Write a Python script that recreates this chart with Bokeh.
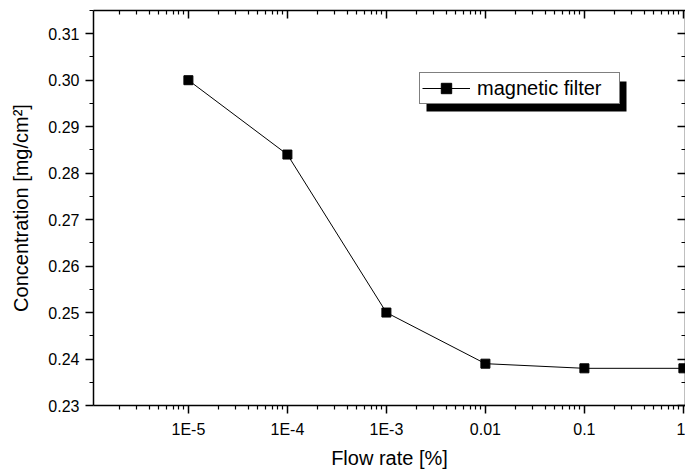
from bokeh.plotting import figure
from bokeh.models import (LogAxis, LinearAxis, FixedTicker, Range1d, Legend, LegendItem,
                          BoxAnnotation, ColumnDataSource, CustomJSTickFormatter, NumeralTickFormatter)
from bokeh.embed import file_html
from bokeh.resources import INLINE

# ---- data ----
flow_rate = [1e-5, 1e-4, 1e-3, 1e-2, 1e-1, 1.0]
concentration = [0.300, 0.284, 0.250, 0.239, 0.238, 0.238]
series_name = "magnetic filter"

x_ticks = [1e-5, 1e-4, 1e-3, 1e-2, 1e-1, 1.0]
x_tick_labels = ["1E-5", "1E-4", "1E-3", "0.01", "0.1", "1"]
y_ticks = [0.23, 0.24, 0.25, 0.26, 0.27, 0.28, 0.29, 0.30, 0.31]

x_title = "Flow rate [%]"
y_title = "Concentration [mg/cm\u00b2]"

FONT = "Liberation Sans"

x_minor = [k * 10.0 ** d for d in range(-6, 1) for k in range(2, 10)]
y_minor = [round(t + 0.005, 3) for t in y_ticks] + [0.225]

src = ColumnDataSource(dict(x=flow_rate, y=concentration))

p = figure(width=685, height=471, x_axis_type="log",
           x_range=Range1d(1.1e-6, 1.05), y_range=Range1d(0.23, 0.315),
           output_backend="svg", toolbar_location=None,
           min_border_left=93, min_border_right=0, min_border_top=10, min_border_bottom=66)
p.grid.visible = False
p.outline_line_color = None
p.background_fill_color = "white"
p.border_fill_color = "white"

xt = FixedTicker(ticks=x_ticks, minor_ticks=x_minor)
yt = FixedTicker(ticks=y_ticks, minor_ticks=y_minor)
xfmt = CustomJSTickFormatter(args=dict(majors=x_ticks, labs=x_tick_labels), code="""
const i = majors.findIndex(t => Math.abs(Math.log10(t) - Math.log10(tick)) < 1e-6);
return i >= 0 ? labs[i] : '';
""")
blank = CustomJSTickFormatter(code="return '';")

def style(ax, out):
    ax.axis_line_color = "black"
    ax.axis_line_width = 1.5
    ax.major_tick_line_color = "black"
    ax.minor_tick_line_color = "black"
    ax.major_tick_line_width = 1.5
    ax.minor_tick_line_width = 1.2
    if out:
        ax.major_tick_out = 8
        ax.major_tick_in = 0
        ax.minor_tick_out = 4
        ax.minor_tick_in = 0
    else:
        ax.major_tick_out = 0
        ax.major_tick_in = 8
        ax.minor_tick_out = 0
        ax.minor_tick_in = 4
    ax.major_label_text_font = FONT
    ax.major_label_text_font_size = "16px"
    ax.major_label_text_color = "black"
    ax.axis_label_text_font = FONT
    ax.axis_label_text_font_size = "20px"
    ax.axis_label_text_font_style = "normal"
    ax.axis_label_text_color = "black"

bx = p.below[0]
bx.ticker = xt
bx.formatter = xfmt
bx.axis_label = x_title
bx.major_label_standoff = 7
bx.axis_label_standoff = 6
style(bx, True)

ly = p.left[0]
ly.ticker = yt
ly.formatter = NumeralTickFormatter(format="0.00")
ly.axis_label = y_title
ly.major_label_standoff = 6
ly.axis_label_standoff = 13
style(ly, True)

top = LogAxis(ticker=xt, formatter=blank, major_label_standoff=0)
style(top, False)
p.add_layout(top, "above")

right = LinearAxis(ticker=yt, formatter=blank, major_label_standoff=0)
style(right, False)
p.add_layout(right, "right")

line_r = p.line("x", "y", source=src, line_color="black", line_width=1)
pts_r = p.scatter("x", "y", source=src, marker="square", size=9,
                  fill_color="black", line_color="black")

shadow = BoxAnnotation(left=333, right=533, bottom=294, top=324,
                       left_units="screen", right_units="screen",
                       bottom_units="screen", top_units="screen",
                       fill_color="black", fill_alpha=1, line_color=None)
p.add_layout(shadow)

legend = Legend(items=[LegendItem(label=series_name, renderers=[line_r, pts_r])],
                location=(326, 301), orientation="vertical",
                border_line_color="black", border_line_width=1,
                background_fill_color="white", background_fill_alpha=1,
                label_text_font=FONT, label_text_font_size="20px",
                label_text_color="black",
                glyph_width=48, glyph_height=26, label_height=26,
                label_width=140, label_standoff=7,
                padding=2, margin=0, spacing=0)
p.add_layout(legend, "center")

open("out.html", "w").write(file_html(p, INLINE))
